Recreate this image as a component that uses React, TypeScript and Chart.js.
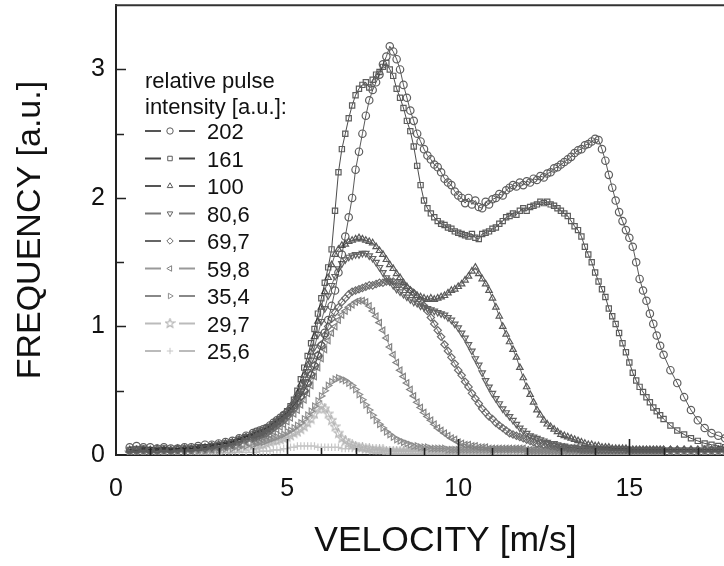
import React, { useEffect, useRef } from 'react';
import { Chart, registerables } from 'chart.js';
import { drawPoint } from 'chart.js/helpers';

Chart.register(...registerables);

const FONT = '"Liberation Sans", Arial, Helvetica, sans-serif';

// Velocity grid [m/s]
const VELOCITY = [
  0.4, 0.6, 0.8, 1.0, 1.2, 1.4, 1.6, 1.8, 2.0, 2.2, 2.4, 2.6, 2.8, 3.0, 3.2, 3.4, 3.6, 3.8,
  4.0, 4.1, 4.2, 4.3, 4.4, 4.5, 4.6, 4.7, 4.8, 4.9,
  5.0, 5.1, 5.2, 5.3, 5.4, 5.5, 5.6, 5.7, 5.8, 5.9,
  6.0, 6.1, 6.2, 6.3, 6.4, 6.5, 6.6, 6.7, 6.8, 6.9,
  7.0, 7.1, 7.2, 7.3, 7.4, 7.5, 7.6, 7.7, 7.8, 7.9,
  8.0, 8.1, 8.2, 8.3, 8.4, 8.5, 8.6, 8.7, 8.8, 8.9,
  9.0, 9.1, 9.2, 9.3, 9.4, 9.5, 9.6, 9.7, 9.8, 9.9,
  10.0, 10.1, 10.2, 10.3, 10.4, 10.5, 10.6, 10.7, 10.8, 10.9,
  11.0, 11.1, 11.2, 11.3, 11.4, 11.5, 11.6, 11.7, 11.8, 11.9,
  12.0, 12.1, 12.2, 12.3, 12.4, 12.5, 12.6, 12.7, 12.8, 12.9,
  13.0, 13.1, 13.2, 13.3, 13.4, 13.5, 13.6, 13.7, 13.8, 13.9,
  14.0, 14.1, 14.2, 14.3, 14.4, 14.5, 14.6, 14.7, 14.8, 14.9,
  15.0, 15.1, 15.2, 15.3, 15.4, 15.5, 15.6, 15.7, 15.8, 15.9,
  16.0,
  16.2, 16.4, 16.6, 16.8, 17.0, 17.2, 17.4, 17.6, 17.8, 18.0,
];

const FREQ_202 = [
  0.06, 0.07, 0.06, 0.06, 0.05, 0.06, 0.05, 0.05, 0.06, 0.06, 0.07, 0.08, 0.08, 0.09, 0.10, 0.11, 0.13, 0.15,
  0.17, 0.18, 0.19, 0.20, 0.21, 0.23, 0.25, 0.27, 0.29, 0.31,
  0.33, 0.36, 0.39, 0.42, 0.46, 0.50, 0.56, 0.62, 0.69, 0.77,
  0.85, 0.95, 1.05, 1.16, 1.28, 1.42, 1.56, 1.70, 1.85, 2.00,
  2.22, 2.36, 2.50, 2.64, 2.76, 2.84, 2.90, 2.96, 3.04, 3.10,
  3.18, 3.14, 3.08, 3.00, 2.88, 2.78, 2.68, 2.60, 2.50, 2.44,
  2.38, 2.33, 2.30, 2.26, 2.24, 2.20, 2.15, 2.12, 2.10, 2.05,
  2.02, 2.00, 1.96, 2.00, 1.95, 1.98, 1.93, 1.92, 1.97, 1.95,
  1.99, 2.00, 2.03, 2.02, 2.06, 2.08, 2.10, 2.09, 2.12, 2.10,
  2.13, 2.12, 2.15, 2.14, 2.17, 2.16, 2.19, 2.20, 2.23, 2.24,
  2.26, 2.28, 2.30, 2.32, 2.35, 2.37, 2.38, 2.41, 2.42, 2.44,
  2.46, 2.45, 2.38, 2.29, 2.18, 2.08, 1.98, 1.89, 1.82, 1.75,
  1.69, 1.62, 1.50, 1.37, 1.28, 1.20, 1.10, 1.02, 0.93, 0.85,
  0.78,
  0.66, 0.56, 0.45, 0.35, 0.27, 0.21, 0.17, 0.15, 0.13, 0.11,
];

const FREQ_161 = [
  0.04, 0.04, 0.05, 0.04, 0.04, 0.05, 0.04, 0.05, 0.05, 0.05, 0.06, 0.06, 0.07, 0.08, 0.09, 0.10, 0.12, 0.14,
  0.16, 0.17, 0.18, 0.19, 0.21, 0.22, 0.24, 0.26, 0.28, 0.31,
  0.34, 0.38, 0.43, 0.50, 0.59, 0.68, 0.77, 0.87, 0.98, 1.10,
  1.22, 1.34, 1.46, 1.60, 1.90, 2.20, 2.38, 2.50, 2.62, 2.72,
  2.80, 2.85, 2.88, 2.90, 2.86, 2.92, 2.96, 2.98, 3.02, 3.05,
  3.00, 2.95, 2.85, 2.78, 2.70, 2.60, 2.52, 2.40, 2.25, 2.10,
  1.98, 1.92, 1.88, 1.85, 1.82, 1.80, 1.79, 1.77, 1.76, 1.74,
  1.73, 1.72, 1.71, 1.70, 1.72, 1.69, 1.68, 1.72, 1.73, 1.74,
  1.76, 1.77, 1.80, 1.82, 1.85, 1.86, 1.88, 1.87, 1.90, 1.92,
  1.90, 1.93, 1.94, 1.95, 1.97, 1.96, 1.97, 1.95, 1.94, 1.92,
  1.90, 1.88, 1.86, 1.82, 1.78, 1.75, 1.70, 1.62, 1.56, 1.50,
  1.42, 1.35, 1.29, 1.23, 1.14, 1.08, 1.02, 0.95, 0.87, 0.80,
  0.72, 0.64, 0.58, 0.53, 0.49, 0.45, 0.41, 0.37, 0.34, 0.31,
  0.28,
  0.23, 0.19, 0.16, 0.13, 0.11, 0.09, 0.08, 0.07, 0.06, 0.05,
];

const FREQ_100 = [
  0.04, 0.04, 0.04, 0.04, 0.05, 0.04, 0.04, 0.05, 0.05, 0.05, 0.05, 0.06, 0.07, 0.08, 0.09, 0.10, 0.12, 0.14,
  0.15, 0.16, 0.17, 0.18, 0.20, 0.22, 0.24, 0.26, 0.28, 0.30,
  0.33, 0.37, 0.42, 0.48, 0.55, 0.62, 0.70, 0.80, 0.92, 1.04,
  1.15, 1.27, 1.38, 1.48, 1.56, 1.60, 1.63, 1.64, 1.66, 1.67,
  1.68, 1.69, 1.68, 1.67, 1.66, 1.65, 1.62, 1.59, 1.56, 1.52,
  1.48, 1.45, 1.41, 1.38, 1.34, 1.31, 1.28, 1.26, 1.24, 1.23,
  1.22, 1.21, 1.22, 1.21, 1.22, 1.23, 1.24, 1.26, 1.28, 1.29,
  1.31, 1.33, 1.36, 1.39, 1.43, 1.46, 1.41, 1.37, 1.33, 1.28,
  1.22, 1.15, 1.08, 1.00, 0.94, 0.88, 0.82, 0.76, 0.68, 0.60,
  0.53, 0.47, 0.41, 0.35, 0.31, 0.27, 0.24, 0.22, 0.20, 0.18,
  0.16, 0.15, 0.14, 0.13, 0.12, 0.11, 0.10, 0.09, 0.08, 0.08,
  0.07, 0.07, 0.06, 0.06, 0.06, 0.05, 0.05, 0.05, 0.05, 0.05,
  0.04, 0.04, 0.04, 0.04, 0.04, 0.04, 0.04, 0.04, 0.04, 0.04,
  0.04,
  0.04, 0.04, 0.04, 0.04, 0.04, 0.04, 0.04, 0.04, 0.04, 0.04,
];

const FREQ_80_6 = [
  0.03, 0.04, 0.04, 0.03, 0.04, 0.04, 0.04, 0.04, 0.04, 0.05, 0.05, 0.05, 0.06, 0.07, 0.08, 0.09, 0.11, 0.13,
  0.14, 0.15, 0.16, 0.17, 0.19, 0.21, 0.23, 0.25, 0.27, 0.29,
  0.32, 0.35, 0.39, 0.44, 0.50, 0.57, 0.65, 0.74, 0.84, 0.94,
  1.04, 1.14, 1.24, 1.32, 1.39, 1.45, 1.49, 1.52, 1.54, 1.55,
  1.56, 1.56, 1.57, 1.57, 1.55, 1.53, 1.50, 1.46, 1.42, 1.38,
  1.35, 1.32, 1.29, 1.27, 1.25, 1.23, 1.21, 1.19, 1.18, 1.16,
  1.15, 1.14, 1.13, 1.12, 1.11, 1.10, 1.09, 1.07, 1.05, 1.02,
  0.99, 0.95, 0.91, 0.86, 0.81, 0.75, 0.70, 0.64, 0.58, 0.53,
  0.48, 0.44, 0.40, 0.36, 0.33, 0.30, 0.27, 0.24, 0.21, 0.19,
  0.17, 0.15, 0.14, 0.13, 0.12, 0.11, 0.10, 0.09, 0.09, 0.08,
  0.07, 0.07, 0.06, 0.06, 0.06, 0.05, 0.05, 0.05, 0.05, 0.05,
  0.04, 0.04, 0.04, 0.04, 0.04, 0.04, 0.04, 0.04, 0.04, 0.04,
  0.04, 0.04, 0.04, 0.04, 0.04, 0.04, 0.04, 0.04, 0.04, 0.04,
  0.04,
  0.04, 0.04, 0.04, 0.04, 0.04, 0.04, 0.04, 0.04, 0.04, 0.04,
];

const FREQ_69_7 = [
  0.03, 0.03, 0.04, 0.03, 0.03, 0.04, 0.03, 0.04, 0.04, 0.04, 0.05, 0.05, 0.06, 0.06, 0.07, 0.08, 0.10, 0.12,
  0.13, 0.14, 0.15, 0.16, 0.17, 0.19, 0.21, 0.23, 0.25, 0.27,
  0.30, 0.33, 0.36, 0.40, 0.45, 0.50, 0.56, 0.63, 0.70, 0.78,
  0.86, 0.93, 1.00, 1.06, 1.11, 1.15, 1.19, 1.22, 1.25, 1.27,
  1.28, 1.29, 1.30, 1.31, 1.32, 1.32, 1.33, 1.34, 1.34, 1.35,
  1.35, 1.35, 1.34, 1.33, 1.32, 1.30, 1.28, 1.26, 1.23, 1.20,
  1.16, 1.12, 1.07, 1.02, 0.97, 0.92, 0.86, 0.81, 0.76, 0.71,
  0.66, 0.62, 0.57, 0.53, 0.48, 0.44, 0.40, 0.36, 0.33, 0.30,
  0.28, 0.25, 0.23, 0.21, 0.19, 0.17, 0.16, 0.15, 0.14, 0.13,
  0.12, 0.11, 0.10, 0.09, 0.09, 0.08, 0.08, 0.07, 0.07, 0.06,
  0.06, 0.06, 0.05, 0.05, 0.05, 0.05, 0.04, 0.04, 0.04, 0.04,
  0.04, 0.04, 0.04, 0.04, 0.04, 0.04, 0.04, 0.04, 0.04, 0.04,
  0.04, 0.04, 0.04, 0.04, 0.04, 0.04, 0.04, 0.04, 0.04, 0.04,
  0.04,
  0.04, 0.04, 0.04, 0.04, 0.04, 0.04, 0.04, 0.04, 0.04, 0.04,
];

const FREQ_59_8 = [
  0.02, 0.03, 0.03, 0.02, 0.03, 0.03, 0.03, 0.03, 0.03, 0.03, 0.04, 0.04, 0.04, 0.05, 0.06, 0.07, 0.08, 0.10,
  0.11, 0.12, 0.13, 0.14, 0.15, 0.16, 0.18, 0.20, 0.22, 0.24,
  0.26, 0.29, 0.32, 0.35, 0.39, 0.43, 0.48, 0.54, 0.61, 0.68,
  0.75, 0.82, 0.89, 0.95, 1.00, 1.05, 1.09, 1.12, 1.15, 1.17,
  1.19, 1.20, 1.20, 1.19, 1.16, 1.12, 1.08, 1.03, 0.97, 0.91,
  0.84, 0.78, 0.72, 0.66, 0.61, 0.56, 0.51, 0.46, 0.41, 0.37,
  0.33, 0.30, 0.27, 0.24, 0.21, 0.19, 0.17, 0.15, 0.13, 0.12,
  0.10, 0.09, 0.08, 0.08, 0.07, 0.07, 0.06, 0.06, 0.06, 0.05,
  0.05, 0.05, 0.05, 0.05, 0.05, 0.05, 0.05, 0.05, 0.05, 0.05,
  0.04, 0.04, 0.04, 0.04, 0.04, 0.04, 0.04, 0.04, 0.04, 0.04,
  0.04, 0.04, 0.04, 0.04, 0.04, 0.04, 0.04, 0.04, 0.04, 0.04,
  0.04, 0.04, 0.04, 0.04, 0.04, 0.04, 0.04, 0.04, 0.04, 0.04,
  0.03, 0.03, 0.03, 0.03, 0.03, 0.03, 0.03, 0.03, 0.03, 0.03,
  0.03,
  0.03, 0.03, 0.03, 0.03, 0.03, 0.03, 0.03, 0.03, 0.03, 0.03,
];

const FREQ_35_4 = [
  0.02, 0.02, 0.03, 0.02, 0.02, 0.03, 0.02, 0.03, 0.03, 0.03, 0.03, 0.03, 0.04, 0.04, 0.05, 0.05, 0.06, 0.07,
  0.08, 0.09, 0.10, 0.10, 0.11, 0.12, 0.13, 0.14, 0.15, 0.16,
  0.18, 0.19, 0.21, 0.23, 0.25, 0.28, 0.31, 0.34, 0.38, 0.42,
  0.46, 0.50, 0.54, 0.57, 0.59, 0.60, 0.59, 0.58, 0.56, 0.54,
  0.51, 0.47, 0.43, 0.39, 0.35, 0.31, 0.27, 0.24, 0.21, 0.18,
  0.16, 0.14, 0.12, 0.11, 0.10, 0.09, 0.08, 0.07, 0.07, 0.06,
  0.06, 0.06, 0.05, 0.05, 0.05, 0.05, 0.05, 0.04, 0.04, 0.04,
  0.04, 0.04, 0.04, 0.04, 0.04, 0.04, 0.04, 0.04, 0.04, 0.04,
  0.04, 0.04, 0.04, 0.04, 0.04, 0.04, 0.04, 0.04, 0.04, 0.04,
  0.03, 0.03, 0.03, 0.03, 0.03, 0.03, 0.03, 0.03, 0.03, 0.03,
  0.03, 0.03, 0.03, 0.03, 0.03, 0.03, 0.03, 0.03, 0.03, 0.03,
  0.03, 0.03, 0.03, 0.03, 0.03, 0.03, 0.03, 0.03, 0.03, 0.03,
  0.03, 0.03, 0.03, 0.03, 0.03, 0.03, 0.03, 0.03, 0.03, 0.03,
  0.03,
  0.03, 0.03, 0.03, 0.03, 0.03, 0.03, 0.03, 0.03, 0.03, 0.03,
];

const FREQ_29_7 = [
  0.02, 0.02, 0.02, 0.02, 0.02, 0.02, 0.02, 0.02, 0.02, 0.02, 0.03, 0.03, 0.03, 0.03, 0.04, 0.04, 0.05, 0.06,
  0.07, 0.07, 0.08, 0.08, 0.09, 0.10, 0.11, 0.11, 0.12, 0.13,
  0.14, 0.15, 0.17, 0.18, 0.20, 0.22, 0.25, 0.28, 0.32, 0.36,
  0.38, 0.36, 0.32, 0.27, 0.22, 0.17, 0.13, 0.11, 0.09, 0.08,
  0.07, 0.06, 0.06, 0.05, 0.05, 0.04, 0.04, 0.04, 0.04, 0.03,
  0.03, 0.03, 0.03, 0.03, 0.03, 0.03, 0.03, 0.03, 0.03, 0.03,
  0.03, 0.03, 0.03, 0.03, 0.03, 0.03, 0.03, 0.03, 0.03, 0.03,
  0.03, 0.03, 0.03, 0.03, 0.03, 0.03, 0.03, 0.03, 0.03, 0.03,
  0.02, 0.02, 0.02, 0.02, 0.02, 0.02, 0.02, 0.02, 0.02, 0.02,
  0.02, 0.02, 0.02, 0.02, 0.02, 0.02, 0.02, 0.02, 0.02, 0.02,
  0.02, 0.02, 0.02, 0.02, 0.02, 0.02, 0.02, 0.02, 0.02, 0.02,
  0.02, 0.02, 0.02, 0.02, 0.02, 0.02, 0.02, 0.02, 0.02, 0.02,
  0.02, 0.02, 0.02, 0.02, 0.02, 0.02, 0.02, 0.02, 0.02, 0.02,
  0.02,
  0.02, 0.02, 0.02, 0.02, 0.02, 0.02, 0.02, 0.02, 0.02, 0.02,
];

const FREQ_25_6 = [
  0.02, 0.02, 0.02, 0.02, 0.02, 0.02, 0.02, 0.02, 0.02, 0.02, 0.02, 0.02, 0.02, 0.02, 0.02, 0.02, 0.02, 0.02,
  0.02, 0.02, 0.03, 0.03, 0.03, 0.03, 0.04, 0.04, 0.04, 0.05,
  0.05, 0.06, 0.06, 0.07, 0.07, 0.07, 0.07, 0.07, 0.07, 0.06,
  0.06, 0.06, 0.06, 0.06, 0.06, 0.06, 0.05, 0.05, 0.05, 0.05,
  0.05, 0.05, 0.04, 0.04, 0.04, 0.04, 0.04, 0.04, 0.03, 0.03,
  0.03, 0.03, 0.03, 0.03, 0.03, 0.03, 0.03, 0.03, 0.03, 0.03,
  0.02, 0.02, 0.02, 0.02, 0.02, 0.02, 0.02, 0.02, 0.02, 0.02,
  0.02, 0.02, 0.02, 0.02, 0.02, 0.02, 0.02, 0.02, 0.02, 0.02,
  0.02, 0.02, 0.02, 0.02, 0.02, 0.02, 0.02, 0.02, 0.02, 0.02,
  0.02, 0.02, 0.02, 0.02, 0.02, 0.02, 0.02, 0.02, 0.02, 0.02,
  0.02, 0.02, 0.02, 0.02, 0.02, 0.02, 0.02, 0.02, 0.02, 0.02,
  0.02, 0.02, 0.02, 0.02, 0.02, 0.02, 0.02, 0.02, 0.02, 0.02,
  0.02, 0.02, 0.02, 0.02, 0.02, 0.02, 0.02, 0.02, 0.02, 0.02,
  0.02,
  0.02, 0.02, 0.02, 0.02, 0.02, 0.02, 0.02, 0.02, 0.02, 0.02,
];

const SERIES_LABELS = ['202', '161', '100', '80,6', '69,7', '59,8', '35,4', '29,7', '25,6'];
const SERIES_VALUES = [FREQ_202, FREQ_161, FREQ_100, FREQ_80_6, FREQ_69_7, FREQ_59_8, FREQ_35_4, FREQ_29_7, FREQ_25_6];
const MARKER_STYLES = ['circle', 'rect', 'triangle', 'triangle', 'rectRot', 'triangle', 'triangle', 'star5', 'cross'];
const MARKER_ROTATIONS = [0, 0, 0, 180, 0, 270, 90, 0, 0];
const MARKER_COLORS = ['#5e5e5e', '#5c5c5c', '#595959', '#636363', '#6c6c6c', '#828282', '#8e8e8e', '#b4b4b4', '#c6c6c6'];
const LINE_COLORS = ['#2e2e2e', '#1e1e1e', '#3a3a3a', '#484848', '#505050', '#808080', '#888888', '#b0b0b0', '#c2c2c2'];
const LEGEND_LINE_COLORS = ['#555555', '#444444', '#555555', '#777777', '#666666', '#999999', '#888888', '#bbbbbb', '#bbbbbb'];

const LEGEND_TITLE = ['relative pulse', 'intensity [a.u.]:'];
const X_TICK_MARKS = [1, 2, 3, 4, 5, 6, 7, 8, 9, 10, 11, 12, 13, 14, 15, 16, 17, 18, 19];
const X_MAJOR_TICKS = [5, 10, 15];
const Y_TICK_MARKS = [0.5, 1, 1.5, 2, 2.5, 3];

function makeStar(color: string): HTMLCanvasElement {
  const c = document.createElement('canvas');
  c.width = 11;
  c.height = 11;
  const g = c.getContext('2d')!;
  g.strokeStyle = color;
  g.lineWidth = 1.1;
  g.beginPath();
  for (let i = 0; i < 10; i++) {
    const r = i % 2 === 0 ? 4.8 : 2.0;
    const a = -Math.PI / 2 + (i * Math.PI) / 5;
    const px = 5.5 + r * Math.cos(a);
    const py = 5.5 + r * Math.sin(a);
    if (i === 0) g.moveTo(px, py);
    else g.lineTo(px, py);
  }
  g.closePath();
  g.stroke();
  return c;
}

const axisDecor = {
  id: 'axisDecor',
  afterDatasetsDraw(chart: any) {
    const { ctx, chartArea, scales } = chart;
    const xs = scales.x;
    const ys = scales.y;
    ctx.save();
    ctx.strokeStyle = '#222';
    ctx.lineWidth = 1.6;
    ctx.beginPath();
    for (const v of X_TICK_MARKS) {
      const px = Math.round(xs.getPixelForValue(v)) + 0.5;
      const len = X_MAJOR_TICKS.includes(v) ? 16 : 7;
      ctx.moveTo(px, chartArea.bottom);
      ctx.lineTo(px, chartArea.bottom - len);
    }
    for (const v of Y_TICK_MARKS) {
      const py = Math.round(ys.getPixelForValue(v)) + 0.5;
      const len = Number.isInteger(v) ? 10 : 8;
      ctx.moveTo(chartArea.left, py);
      ctx.lineTo(chartArea.left + len, py);
    }
    ctx.stroke();
    ctx.strokeStyle = '#333';
    ctx.lineWidth = 2;
    ctx.beginPath();
    ctx.moveTo(chartArea.left - 1, chartArea.top);
    ctx.lineTo(chartArea.right, chartArea.top);
    ctx.stroke();
    ctx.restore();
  },
};

const insideLegend = {
  id: 'insideLegend',
  afterDraw(chart: any) {
    const { ctx } = chart;
    ctx.save();
    ctx.fillStyle = '#111';
    ctx.font = `22px ${FONT}`;
    ctx.textAlign = 'left';
    ctx.textBaseline = 'alphabetic';
    ctx.fillText(LEGEND_TITLE[0], 145, 88);
    ctx.fillText(LEGEND_TITLE[1], 145, 114);
    chart.data.datasets.forEach((ds: any, i: number) => {
      const base = 139 + i * 27.5;
      const mid = base - 8;
      ctx.strokeStyle = LEGEND_LINE_COLORS[i];
      ctx.lineWidth = 2;
      ctx.beginPath();
      ctx.moveTo(145, mid);
      ctx.lineTo(161, mid);
      ctx.moveTo(179, mid);
      ctx.lineTo(195, mid);
      ctx.stroke();
      ctx.fillStyle = '#ffffff';
      ctx.strokeStyle = ds.pointBorderColor;
      ctx.lineWidth = 1;
      drawPoint(ctx, { pointStyle: ds.pointStyle, rotation: ds.pointRotation || 0, radius: 3.2, borderWidth: 1 } as any, 170, mid);
      ctx.fillStyle = '#111';
      ctx.fillText(SERIES_LABELS[i], 207, base);
    });
    ctx.restore();
  },
};

export default function App() {
  const ref = useRef<HTMLCanvasElement | null>(null);

  useEffect(() => {
    const canvas = ref.current;
    if (!canvas) return;
    const star = makeStar(MARKER_COLORS[7]);
    const datasets = SERIES_LABELS.map((label, i) => ({
      label,
      data: VELOCITY.map((v, k) => ({ x: v, y: SERIES_VALUES[i][k] })).filter((p) => p.y !== undefined),
      showLine: true,
      borderColor: LINE_COLORS[i],
      borderWidth: 0.8,
      pointStyle: MARKER_STYLES[i] === 'star5' ? star : MARKER_STYLES[i],
      pointRotation: MARKER_ROTATIONS[i],
      pointRadius: 3.7,
      pointBorderWidth: 1.2,
      pointBorderColor: MARKER_COLORS[i],
      pointBackgroundColor: 'rgba(255,255,255,0)',
      tension: 0,
    }));

    const chart = new Chart(canvas, {
      type: 'scatter',
      data: { datasets } as any,
      options: {
        animation: false,
        responsive: false,
        events: [],
        layout: { padding: { top: 5, left: 0, right: 0, bottom: 0 } },
        plugins: { legend: { display: false }, tooltip: { enabled: false } },
        scales: {
          x: {
            type: 'linear',
            min: 0,
            max: 19.25,
            grid: { display: false, drawTicks: false },
            border: { display: true, color: '#222', width: 2 },
            ticks: {
              stepSize: 5,
              autoSkip: false,
              maxRotation: 0,
              padding: 19,
              color: '#111',
              font: { family: FONT, size: 25 },
              callback: (v: any) => (Number.isInteger(v) && v % 5 === 0 ? String(v) : ''),
            },
            title: {
              display: true,
              text: 'VELOCITY [m/s]',
              color: '#111',
              font: { family: FONT, size: 35.5 },
              padding: { top: 0, bottom: 3 },
            },
            afterFit: (scale: any) => {
              scale.height = 111;
              scale.paddingLeft = 0;
              scale.paddingRight = 0;
            },
          },
          y: {
            type: 'linear',
            min: 0,
            max: 3.5,
            grid: { display: false, drawTicks: false },
            border: { display: true, color: '#222', width: 2 },
            ticks: {
              stepSize: 1,
              padding: 11,
              color: '#111',
              font: { family: FONT, size: 25 },
              callback: (v: any) => (Number.isInteger(v) ? String(v) : ''),
            },
            title: {
              display: true,
              text: 'FREQUENCY [a.u.]',
              color: '#111',
              font: { family: FONT, size: 34 },
              padding: { top: 10, bottom: 0 },
            },
            afterFit: (scale: any) => {
              scale.width = 116;
              scale.paddingTop = 0;
              scale.paddingBottom = 0;
            },
          },
        },
      } as any,
      plugins: [axisDecor, insideLegend],
    });
    return () => chart.destroy();
  }, []);

  return (
    <div
      style={{
        position: 'fixed',
        left: 0,
        top: 0,
        width: 724,
        height: 566,
        overflow: 'hidden',
        background: '#ffffff',
      }}
    >
      <canvas ref={ref} width={780} height={566} style={{ display: 'block' }} />
    </div>
  );
}
